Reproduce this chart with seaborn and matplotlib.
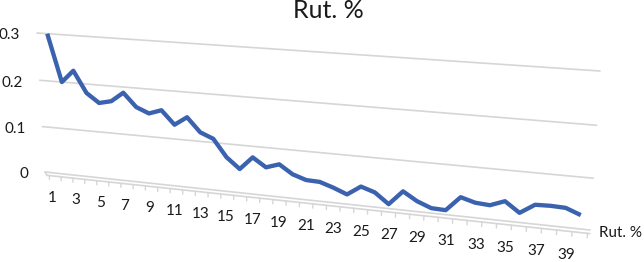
import numpy as np
import pandas as pd
import matplotlib
matplotlib.use("Agg")
import matplotlib.pyplot as plt
import matplotlib.transforms as mtransforms
import seaborn as sns

# ---------------- data ----------------
categories = list(range(1, 41))
values = [0.300, 0.200, 0.226, 0.181, 0.162, 0.168, 0.188, 0.160, 0.149, 0.158,
          0.130, 0.148, 0.119, 0.108, 0.072, 0.050, 0.077, 0.059, 0.068, 0.050,
          0.041, 0.040, 0.031, 0.020, 0.039, 0.030, 0.009, 0.038, 0.021, 0.010,
          0.009, 0.038, 0.030, 0.028, 0.039, 0.019, 0.038, 0.039, 0.038, 0.027]
y_ticks = [0, 0.1, 0.2, 0.3]
y_tick_labels = ["0", "0.1", "0.2", "0.3"]
x_tick_cats = [1, 3, 5, 7, 9, 11, 13, 15, 17, 19, 21, 23, 25, 27, 29, 31, 33, 35, 37, 39]
x_tick_labels = ["1", "3", "5", "7", "9", "11", "13", "15", "17", "19",
                 "21", "23", "25", "27", "29", "31", "33", "35", "37", "39"]
title = "Rut. %"
series_name = "Rut. %"

# ---------------- style ----------------
sns.set_style("white")
plt.rcParams["font.family"] = ["Lato", "DejaVu Sans"]

W, H = 644, 262
fig = plt.figure(figsize=(W / 100, H / 100), dpi=100)
fig.patch.set_facecolor("white")
ax = fig.add_axes([0, 0, 1, 1])

# wall extents in category units
CL, CR = 0.15, 40.65
VMIN, VMAX = 0.0, 0.3


def px(x, y):
    return (x / W, 1 - y / H)


def homography(src, dst):
    A, b = [], []
    for (s, t), (X, Y) in zip(src, dst):
        A.append([s, t, 1, 0, 0, 0, -s * X, -t * X]); b.append(X)
        A.append([0, 0, 0, s, t, 1, -s * Y, -t * Y]); b.append(Y)
    h = np.linalg.solve(np.array(A, float), np.array(b, float))
    return np.append(h, 1.0).reshape(3, 3)


class Perspective(mtransforms.Transform):
    input_dims = 2
    output_dims = 2
    is_separable = False
    has_inverse = False

    def __init__(self, M):
        super().__init__()
        self._M = M

    def transform_non_affine(self, xy):
        xy = np.asarray(xy, float).reshape(-1, 2)
        pts = np.column_stack([xy, np.ones(len(xy))])
        r = pts @ self._M.T
        return r[:, :2] / r[:, 2:3]


src = [(0, 0), (1, 0), (1, 1), (0, 1)]
dst = [px(45, 172), px(590, 230), px(600, 71), px(37, 33)]
M = homography(src, dst)
T = ax.transScale + ax.transLimits + Perspective(M) + ax.transAxes

# ---------------- line via seaborn ----------------
df = pd.DataFrame({"cat": categories, "val": values})
sns.lineplot(data=df, x="cat", y="val", ax=ax, color="#3B62AE",
             linewidth=3.1, zorder=5)
for ln in ax.lines:
    ln.set_transform(T)
    ln.set_clip_on(False)
    ln.set_solid_joinstyle("round")
    ln.set_solid_capstyle("butt")

grid_color = "#D6D6D6"
# gridlines on back wall
for v in y_ticks:
    ax.plot([CL, CR], [v, v], color=grid_color, lw=1.2, transform=T,
            clip_on=False, zorder=1)
# floor front edge & side
ax.plot([CL + 0.15, CR], [-0.007, -0.007], color=grid_color, lw=1.2,
        transform=T, clip_on=False, zorder=1)
ax.plot([CL, CL + 0.15], [0, -0.007], color=grid_color, lw=1.2,
        transform=T, clip_on=False, zorder=1)
# tick marks between categories
for c in [k + 0.5 for k in range(0, 41)]:
    ax.plot([c, c], [-0.007, -0.016], color=grid_color, lw=1.0,
            transform=T, clip_on=False, zorder=1)

# x tick labels (front plane, slightly larger than the wall)
label_shift = mtransforms.Affine2D().scale(1.0144, 1.0).translate(-4.8, -3.5)
for c, lab in zip(x_tick_cats, x_tick_labels):
    ax.text(c, -0.047, lab, transform=T + label_shift, ha="center", va="center",
            fontsize=11, color="#1a1a1a")

# y tick labels
off = mtransforms.ScaledTranslation(-17 / 100, -2.5 / 100, fig.dpi_scale_trans)
for v, lab in zip(y_ticks, y_tick_labels):
    ax.text(CL, v, lab, transform=T + off, ha="right", va="center",
            fontsize=11, color="#1a1a1a")

ax.set_xlim(CL, CR)
ax.set_ylim(VMIN, VMAX)
ax.set_axis_off()

fig.text(328 / W, 1 - 11 / H, title, ha="center", va="center",
         fontsize=18, color="#1a1a1a")
fig.text(599 / W, 1 - 233 / H, series_name, ha="left", va="center",
         fontsize=11, color="#1a1a1a")

fig.savefig("out.png", dpi=100, facecolor="white")
